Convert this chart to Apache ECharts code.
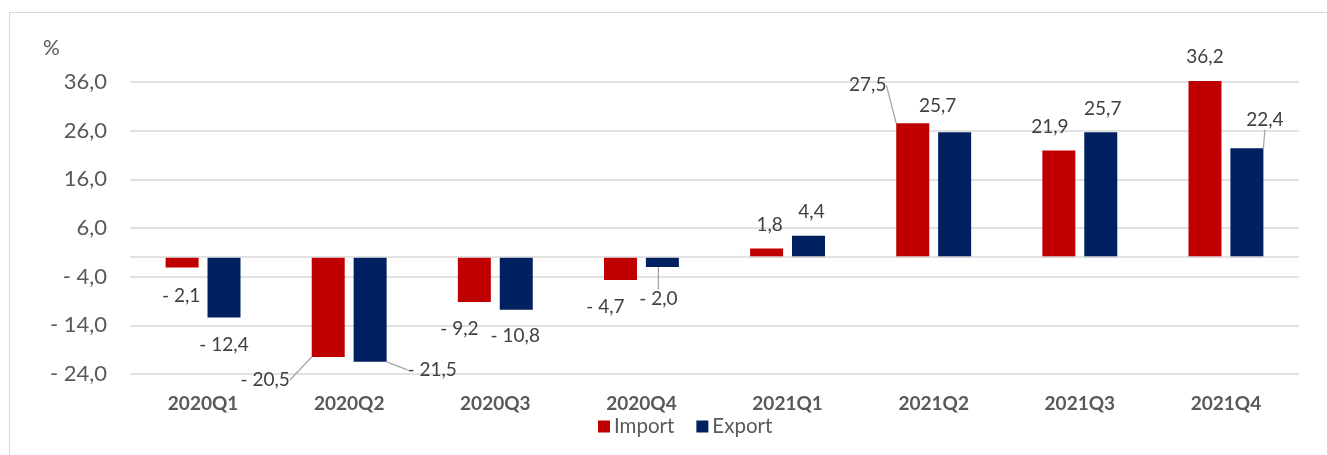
<!DOCTYPE html>
<html>
<head>
<meta charset="utf-8">
<script src="https://cdn.jsdelivr.net/npm/echarts@6/dist/echarts.min.js"></script>
<style>
  html, body { margin: 0; padding: 0; background: #fff; }
  #chart { position: absolute; left: 0; top: 0; width: 1327px; height: 455px; }
  #frame { position: absolute; left: 9px; top: 12px; width: 1330px; height: 460px;
           border-top: 1px solid #D9D9D9; border-left: 1px solid #D9D9D9; pointer-events: none; }
</style>
</head>
<body>
<div id="chart"></div>
<div id="frame"></div>
<script>
// ---- data ----
const categories = ['2020Q1', '2020Q2', '2020Q3', '2020Q4', '2021Q1', '2021Q2', '2021Q3', '2021Q4'];
const importValues = [-2.1, -20.5, -9.2, -4.7, 1.8, 27.5, 21.9, 36.2];
const exportValues = [-12.4, -21.5, -10.8, -2.0, 4.4, 25.7, 25.7, 22.4];
const seriesNames = ['Import', 'Export'];
const yTicks = { min: -24, max: 36, interval: 10 };
const yUnit = '%';

// ---- label layout (offset of label centre from bar end, px) ----
const importShift = [[-1, 28], [-63, 23], [-15, 27], [-15, 27], [3, -24], [-45, -38], [-9, -24], [0, -24]];
const exportShift = [[0, 27], [62, 8], [-1, 26], [-4, 32], [3, -24], [-17, -26], [2, -23], [18, -28]];
const importLeader = [false, true, false, false, false, true, false, false];
const exportLeader = [false, true, false, true, false, false, false, true];

const FONT = 'Lato, "Open Sans", sans-serif';
function fmt(v) {
  return (v < 0 ? '- ' : '') + Math.abs(v).toFixed(1).replace('.', ',');
}

function makeItems(values, leaders) {
  return values.map((v, i) => ({
    value: v,
    labelLine: { show: leaders[i] }
  }));
}

function makeLayout(values, shifts) {
  return function (p) {
    const r = p.rect;
    const v = values[p.dataIndex];
    const s = shifts[p.dataIndex];
    const endY = v < 0 ? r.y + r.height : r.y;
    return {
      x: r.x + r.width / 2 + s[0],
      y: endY + s[1],
      align: 'center',
      verticalAlign: 'middle'
    };
  };
}

const labelStyle = {
  show: true,
  position: 'top',
  fontFamily: FONT,
  fontSize: 19,
  color: '#404040',
  formatter: p => fmt(p.value)
};

const chart = echarts.init(document.getElementById('chart'), null, { renderer: 'canvas' });
chart.setOption({
  animation: false,
  backgroundColor: '#fff',
  title: {
    text: yUnit, left: 38, top: 33,
    textStyle: { fontFamily: FONT, fontSize: 21, fontWeight: 'normal', color: '#595959' }
  },
  legend: {
    bottom: 13, left: 593,
    itemWidth: 12, itemHeight: 12, itemGap: 22,
    icon: 'rect',
    textStyle: { fontFamily: FONT, fontSize: 20.5, color: '#595959', padding: [0, 0, 0, -1] },
    data: seriesNames
  },
  grid: { left: 130, right: 28, top: 82, bottom: 81, containLabel: false },
  xAxis: {
    type: 'category',
    data: categories,
    axisLine: { show: false, onZero: false },
    axisTick: { show: false },
    axisLabel: { margin: 20, fontFamily: FONT, fontSize: 19, fontWeight: 'bold', color: '#595959' }
  },
  yAxis: {
    type: 'value',
    min: yTicks.min, max: yTicks.max, interval: yTicks.interval,
    axisLine: { show: false },
    axisTick: { show: false },
    splitLine: { lineStyle: { color: '#D9D9D9', width: 1.5 } },
    axisLabel: { margin: 23, fontFamily: FONT, fontSize: 22, color: '#595959', formatter: v => fmt(v) }
  },
  series: [
    {
      name: seriesNames[0], type: 'bar',
      data: makeItems(importValues, importLeader),
      itemStyle: { color: '#C00000' },
      barWidth: 33, barGap: '27%',
      clip: false,
      label: labelStyle,
      labelLayout: makeLayout(importValues, importShift),
      labelLine: { show: false, lineStyle: { color: '#A6A6A6', width: 1.3 } },
      markLine: {
        silent: true, symbol: 'none', label: { show: false },
        lineStyle: { color: '#D9D9D9', width: 1.5, type: 'solid' },
        data: [{ yAxis: 0 }]
      },
      z: 3
    },
    {
      name: seriesNames[1], type: 'bar',
      data: makeItems(exportValues, exportLeader),
      itemStyle: { color: '#002060' },
      barWidth: 33, barGap: '27%',
      clip: false,
      label: labelStyle,
      labelLayout: makeLayout(exportValues, exportShift),
      labelLine: { show: false, lineStyle: { color: '#A6A6A6', width: 1.3 } },
      z: 3
    }
  ]
});
</script>
</body>
</html>
